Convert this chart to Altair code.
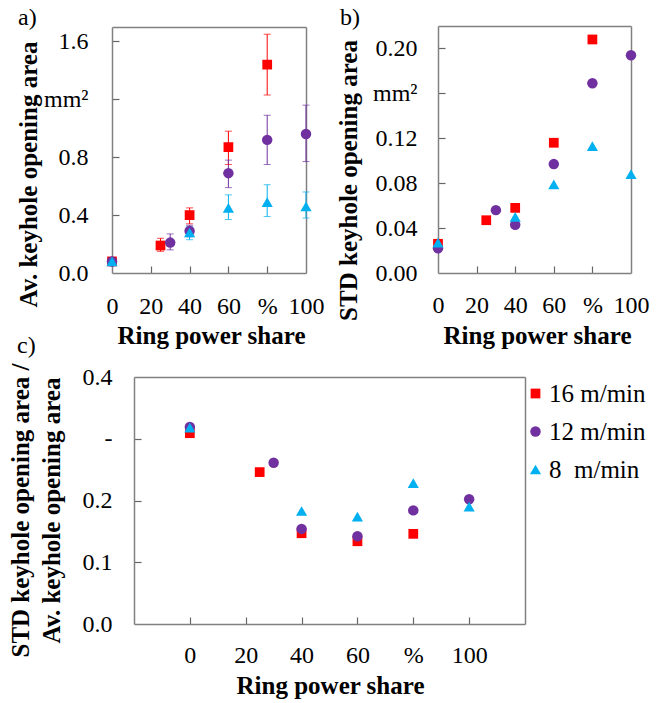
import altair as alt
import pandas as pd

FONT = "Liberation Serif"

# series
series = ["16 m/min", "12 m/min", "\u00a08\u00a0\u00a0m/min"]
colors = ["#FF0000", "#7030A0", "#00B0F0"]
shapes = ["square", "circle", "triangle-up"]
sizes = [95, 125, 140]

# ring power share (%)
x16 = [0, 25, 40, 60, 80]
x12 = [0, 30, 40, 60, 80, 100]
x8 = [0, 40, 60, 80, 100]

# a) average keyhole opening area (mm^2) with error bar ends
avg16 = [0.08, 0.19, 0.40, 0.87, 1.44]
lo16 = [0.06, 0.15, 0.34, 0.75, 1.23]
hi16 = [0.10, 0.24, 0.45, 0.98, 1.65]
avg12 = [0.08, 0.21, 0.29, 0.69, 0.92, 0.96]
lo12 = [0.06, 0.16, 0.25, 0.59, 0.75, 0.77]
hi12 = [0.10, 0.27, 0.33, 0.78, 1.09, 1.16]
avg8 = [0.08, 0.28, 0.45, 0.49, 0.46]
lo8 = [0.06, 0.23, 0.37, 0.39, 0.38]
hi8 = [0.10, 0.32, 0.54, 0.61, 0.56]

# b) STD keyhole opening area (mm^2)
std16 = [0.026, 0.047, 0.058, 0.116, 0.208]
std12 = [0.022, 0.056, 0.043, 0.097, 0.169, 0.194]
std8 = [0.027, 0.050, 0.079, 0.113, 0.088]

# c) STD / average
r16 = [0.309, 0.246, 0.147, 0.134, 0.146]
r12 = [0.319, 0.261, 0.154, 0.142, 0.184, 0.202]
r8 = [0.318, 0.183, 0.174, 0.228, 0.190]

# axis tick values
xticks = [0, 20, 40, 60, 80, 100]
xticks_in_ab = [20, 40, 60, 80]
yticks_a = [0.0, 0.4, 0.8, 1.2, 1.6]
yticks_b = [0.0, 0.04, 0.08, 0.12, 0.16, 0.20]
yticks_c = [0.0, 0.1, 0.2, 0.3, 0.4]

rows = []
for s, xs_, av, lo, hi, sd, rr in [
    (series[0], x16, avg16, lo16, hi16, std16, r16),
    (series[1], x12, avg12, lo12, hi12, std12, r12),
    (series[2], x8, avg8, lo8, hi8, std8, r8),
]:
    for i, x in enumerate(xs_):
        rows.append({"series": s, "x": x, "avg": av[i], "lo": lo[i], "hi": hi[i],
                     "std": sd[i], "ratio": rr[i]})
df = pd.DataFrame(rows)

color_scale = alt.Scale(domain=series, range=colors)
shape_scale = alt.Scale(domain=series, range=shapes)
size_scale = alt.Scale(domain=series, range=sizes)

TICK_COL = "#666666"
FRAME_COL = "#808080"
CW, CH = 662, 703


def x_axis(bottom, title_x, title_y, label_pad):
    return alt.Axis(
        orient="bottom", offset=bottom - CH,
        values=xticks, labelExpr="datum.value == 80 ? '%' : datum.label",
        grid=False, domain=True, domainColor=FRAME_COL, domainWidth=1.5,
        ticks=False, tickSize=0,
        labelFont=FONT, labelFontSize=24, labelColor="black",
        labelBaseline="alphabetic", labelPadding=label_pad,
        labelFlush=False, labelOverlap=False, labelBound=False,
        title="Ring power share", titleFont=FONT, titleFontSize=25,
        titleFontWeight="bold", titleColor="black", titleBaseline="alphabetic",
        titleAlign="center", titleX=title_x, titleY=title_y,
    )


def y_axis(left, values, expr, title, tx, ty, label_pad, line_h=None):
    kw = dict(
        orient="left", offset=-left,
        values=values, labelExpr=expr, grid=False,
        domain=True, domainColor=FRAME_COL, domainWidth=1.5,
        ticks=False, tickSize=0, labelFont=FONT, labelFontSize=24, labelColor="black",
        labelPadding=label_pad, labelOverlap=False, labelFlush=False,
        labelBound=False,
        title=title, titleFont=FONT, titleFontSize=25, titleFontWeight="bold",
        titleColor="black", titleAngle=270, titleAlign="center",
        titleBaseline="alphabetic", titleX=tx, titleY=ty,
    )
    if line_h is not None:
        kw["titleLineHeight"] = line_h
    return alt.Axis(**kw)


leg = alt.Legend(
    orient="none", legendX=523, legendY=381, title=None, padding=0,
    labelFont=FONT, labelFontSize=25, labelColor="black", labelOffset=1,
    symbolSize=100, symbolStrokeWidth=0, symbolOpacity=1, rowPadding=12,
)


def scales(xrange, yrange, xdom, ydom):
    xs = alt.Scale(domain=xdom, nice=False, zero=False, range=xrange)
    ys = alt.Scale(domain=ydom, nice=False, zero=False, range=yrange)
    return xs, ys


def panel(field, xrange, yrange, xdom, ydom, xax, yax, label, ldx, ldy, errors=False):
    base = alt.Chart(df)
    xs, ys = scales(xrange, yrange, xdom, ydom)

    def X(f):
        return alt.X(f"{f}:Q", scale=xs, axis=xax)

    def Y(f):
        return alt.Y(f"{f}:Q", scale=ys, axis=yax)

    layers = []
    if errors:
        col = alt.Color("series:N", scale=color_scale, legend=leg)
        bars = base.mark_rule(strokeWidth=1).encode(
            x=X("x"), y=Y("lo"), y2="hi:Q", color=col)
        cap_lo = base.mark_tick(orient="horizontal", size=7, thickness=1).encode(
            x=X("x"), y=Y("lo"), color=col)
        cap_hi = base.mark_tick(orient="horizontal", size=7, thickness=1).encode(
            x=X("x"), y=Y("hi"), color=col)
        layers += [bars, cap_lo, cap_hi]
    pts = base.mark_point(filled=True, opacity=1).encode(
        x=X("x"), y=Y(field),
        color=alt.Color("series:N", scale=color_scale, legend=leg),
        shape=alt.Shape("series:N", scale=shape_scale, legend=leg),
        size=alt.Size("series:N", scale=size_scale, legend=None),
    )
    lab_src = pd.DataFrame({"x": [xdom[0]], field: [ydom[1]], "l": [label]})
    lab = alt.Chart(lab_src).mark_text(
        font=FONT, fontSize=24, align="left", baseline="alphabetic", color="black",
        dx=ldx, dy=ldy,
    ).encode(text="l:N", x=X("x"), y=Y(field))
    return alt.layer(*layers, pts, lab)


def guides(field, xrange, yrange, xdom, ydom, xt_in, yt_in):
    """Inward ticks (top/right axes moved onto bottom/left edges) and the
    top/right frame edges (axis domains)."""
    xs, ys = scales(xrange, yrange, xdom, ydom)
    left, right = xrange
    bottom, top = yrange
    tick_x = alt.Axis(orient="top", offset=-bottom, values=xt_in, domain=False,
                      ticks=True, tickSize=7, tickColor=TICK_COL, tickWidth=1.2,
                      labels=False, grid=False, title=None)
    tick_y = alt.Axis(orient="right", offset=left - CW, values=yt_in, domain=False,
                      ticks=True, tickSize=7, tickColor=TICK_COL, tickWidth=1.2,
                      labels=False, grid=False, title=None)
    edge_x = alt.Axis(orient="top", offset=-top, domain=True, domainColor=FRAME_COL,
                      domainWidth=1.5, ticks=False, labels=False, grid=False, title=None)
    edge_y = alt.Axis(orient="right", offset=right - CW, domain=True,
                      domainColor=FRAME_COL, domainWidth=1.5, ticks=False,
                      labels=False, grid=False, title=None)
    u1 = alt.Chart(df).mark_point(opacity=0).encode(
        x=alt.X("x:Q", scale=xs, axis=tick_x), y=alt.Y(f"{field}:Q", scale=ys, axis=tick_y))
    u2 = alt.Chart(df).mark_point(opacity=0).encode(
        x=alt.X("x:Q", scale=xs, axis=edge_x), y=alt.Y(f"{field}:Q", scale=ys, axis=edge_y))
    return [u1, u2]


# panel a: plot area x 112..306, y 27..273
A = ("avg", [112, 306], [273, 27], [0, 100], [0, 1.7])
pa = panel(
    *A,
    x_axis(273, 211, 70, 40),
    y_axis(112, yticks_a, "abs(datum.value - 1.2) < 1e-9 ? 'mm²' : format(datum.value, '.1f')",
           "Av. keyhole opening area", -76, 174, 24),
    "a)", -94, -2, errors=True,
)
ga = guides(*A, xticks_in_ab, [0.4, 0.8, 1.2, 1.6])

# panel b: plot area x 438..631, y 26..273
B = ("std", [438, 631], [273, 26], [0, 100], [0, 0.22])
pb = panel(
    *B,
    x_axis(273, 537, 70, 39),
    y_axis(438, yticks_b, "abs(datum.value - 0.16) < 1e-9 ? 'mm²' : format(datum.value, '.2f')",
           "STD keyhole opening area", -82, 180, 21),
    "b)", -98, -1,
)
gb = guides(*B, xticks_in_ab, [0.04, 0.08, 0.12, 0.16, 0.20])

# panel c: plot area x 134..525, y 377..624
C = ("ratio", [134, 525], [624, 377], [-20, 120], [0, 0.4])
pc = panel(
    *C,
    x_axis(624, 330, 69, 38),
    y_axis(134, yticks_c, "abs(datum.value - 0.3) < 1e-9 ? '-' : format(datum.value, '.1f')",
           ["STD keyhole opening area /", "Av. keyhole opening area"], -106, 510, 22,
           line_h=31),
    "c)", -117, -24,
)
gc = guides(*C, xticks, [0.1, 0.2, 0.3])

chart = alt.layer(*ga, *gb, *gc, pa, pb, pc).resolve_scale(
    x="independent", y="independent"
).properties(
    width=CW, height=CH, padding=0,
    autosize=alt.AutoSizeParams(type="none"),
).configure(font=FONT).configure_view(strokeWidth=0).configure_legend(
    labelFont=FONT, labelFontSize=25, labelColor="black"
)

chart.save("out.html", embed_options={"renderer": "svg", "actions": False})
